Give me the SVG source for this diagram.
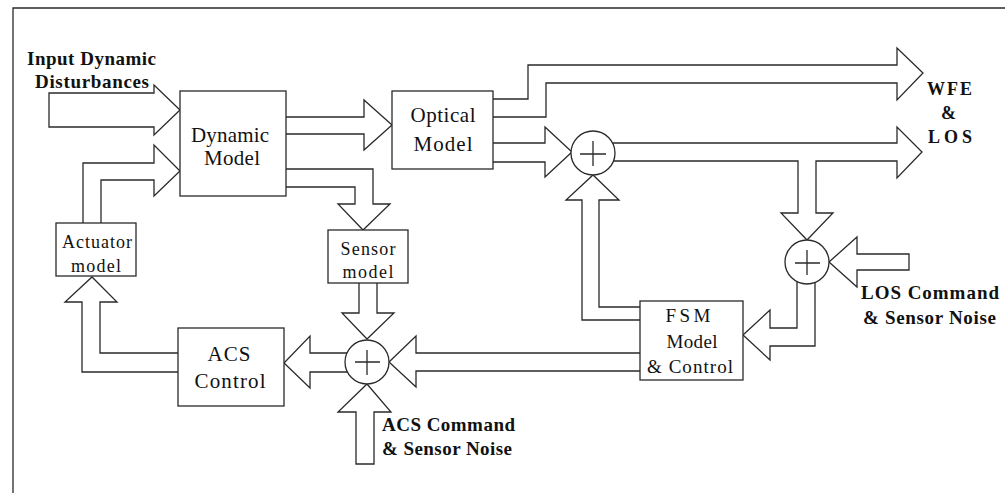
<svg xmlns="http://www.w3.org/2000/svg" width="1005" height="493" viewBox="0 0 1005 493">
<style>
.ln{fill:none;stroke:#2a2a2a;stroke-width:1.3}
.ar{fill:#fff;stroke:#2a2a2a;stroke-width:1.3;stroke-linejoin:miter}
.bx{fill:#fff;stroke:#2a2a2a;stroke-width:1.3}
.sm{fill:#fff;stroke:#2a2a2a;stroke-width:1.3}
.t{font-family:"Liberation Serif","Times New Roman",serif;fill:#111;text-anchor:middle}
.b{font-family:"Liberation Serif","Times New Roman",serif;fill:#111;font-weight:bold}
</style>
<rect width="1005" height="493" fill="#fff"/>
<path class="ln" d="M13,493 V8 H1005"/>
<g id="connectors">
<path class="ar" d="M49,93 H154 V85 L180,110 L154,135 V127 H49 Z"/>
<path class="ar" d="M83,223 V163 H154 V145 L180,171 L154,196 V180 H101 V223"/>
<path class="ar" d="M178,372 H82 V302 H65 L92,277 L117,302 H100 V353 H178"/>
<path class="ar" d="M286,117 H364 V100 L392,125 L364,150 V134 H286"/>
<path class="ar" d="M286,169 H373 V204 H390 L363,230 L338,204 H355 V187 H286"/>
<path class="ar" d="M359,283 V313 H342 L367,339 L394,313 H377 V283"/>
<path class="ar" d="M356,464 V412 H338 L367,384 L391,412 H374 V464 Z"/>
<path class="ar" d="M355,353 H310 V336 L284,363 L310,388 V372 H355"/>
<path class="ar" d="M640,353 H416 V336 L389,362 L416,387 V371 H640"/>
<path class="ar" d="M493,143 H545 V127 L572,152 L545,177 V162 H493"/>
<path class="ar" d="M493,99 H528 V65 H897 V48 L923,73 L897,100 V83 H546 V117 H493"/>
<path class="ar" d="M605,143 H897 V127 L922,152 L897,178 V161 H816 V213 H833 L807,240 L781,213 H798 V161 H605"/>
<path class="ar" d="M640,320 H582 V200 H566 L593,175 L619,200 H599 V307 H640"/>
<path class="ar" d="M909,254 V270 H857 V287 L829,262 L857,237 V254 Z"/>
<path class="ar" d="M797,272 V328 H770 V310 L743,335 L770,360 V346 H815 V272"/>
</g>
<g id="sum-upper">
<circle class="sm" cx="593" cy="153" r="22"/>
<path class="ln" d="M580,154 H606 M593,141 V166"/>
</g>
<g id="sum-acs">
<circle class="sm" cx="367" cy="362" r="22"/>
<path class="ln" d="M355,362 H380 M367,350 V375"/>
</g>
<g id="sum-los">
<circle class="sm" cx="807" cy="262" r="22"/>
<path class="ln" d="M795,263 H820 M807,250 V275"/>
</g>
<g id="dynamic-model">
<rect class="bx" x="180" y="91" width="106" height="105"/>
<text class="t" x="230" y="142" font-size="21" textLength="78">Dynamic</text>
<text class="t" x="232" y="165" font-size="21" textLength="56">Model</text>
</g>
<g id="optical-model">
<rect class="bx" x="392" y="91" width="101" height="78"/>
<text class="t" x="443" y="122" font-size="21" textLength="65">Optical</text>
<text class="t" x="443" y="151" font-size="21" textLength="59">Model</text>
</g>
<g id="actuator-model">
<rect class="bx" x="56" y="223" width="80" height="53"/>
<text class="t" x="97" y="248" font-size="18" textLength="70">Actuator</text>
<text class="t" x="96" y="272" font-size="18" textLength="50">model</text>
</g>
<g id="sensor-model">
<rect class="bx" x="328" y="230" width="80" height="53"/>
<text class="t" x="368" y="255" font-size="18" textLength="55">Sensor</text>
<text class="t" x="368" y="278" font-size="18" textLength="51">model</text>
</g>
<g id="acs-control">
<rect class="bx" x="178" y="328" width="106" height="78"/>
<text class="t" x="229" y="361" font-size="21" textLength="43">ACS</text>
<text class="t" x="230" y="388" font-size="21" textLength="71">Control</text>
</g>
<g id="fsm-model">
<rect class="bx" x="640" y="301" width="103" height="79"/>
<text class="t" x="688" y="322" font-size="19" textLength="45">FSM</text>
<text class="t" x="692" y="348" font-size="19" textLength="51">Model</text>
<text class="t" x="690" y="373" font-size="19" textLength="86">&amp; Control</text>
</g>
<g id="labels">
<text class="b" x="27" y="65" font-size="19" textLength="129">Input Dynamic</text>
<text class="b" x="35" y="88" font-size="19" textLength="114">Disturbances</text>
<text class="b" x="927" y="95" font-size="18" textLength="45">WFE</text>
<text class="b" x="941" y="119" font-size="18">&amp;</text>
<text class="b" x="928" y="143" font-size="18" textLength="44">LOS</text>
<text class="b" x="382" y="431" font-size="19" textLength="133">ACS Command</text>
<text class="b" x="382" y="455" font-size="19" textLength="130">&amp; Sensor Noise</text>
<text class="b" x="861" y="299" font-size="19" textLength="138">LOS Command</text>
<text class="b" x="863" y="324" font-size="19" textLength="133">&amp; Sensor Noise</text>
</g>
</svg>
